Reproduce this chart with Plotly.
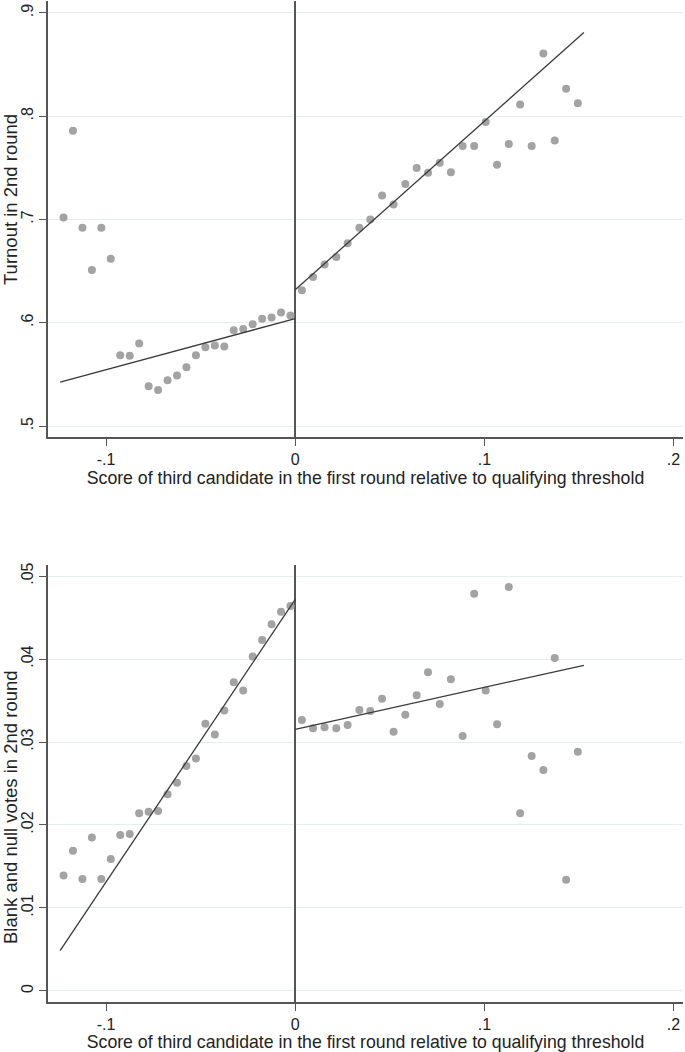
import plotly.graph_objects as go

# ---- data ----
left_x = [-0.1225, -0.1175, -0.1125, -0.1075, -0.1025, -0.0975, -0.0925, -0.0875, -0.0825,
          -0.0775, -0.0725, -0.0675, -0.0625, -0.0575, -0.0525, -0.0475, -0.0425, -0.0375,
          -0.0325, -0.0275, -0.0225, -0.0175, -0.0125, -0.0075, -0.0025]
right_x = [0.0035, 0.0094, 0.0155, 0.0217, 0.0277, 0.0339, 0.0397, 0.0459, 0.0520, 0.0582,
           0.0642, 0.0702, 0.0764, 0.0823, 0.0885, 0.0946, 0.1007, 0.1067, 0.1129, 0.1189,
           0.1250, 0.1312, 0.1372, 0.1432, 0.1494]

turnout_left = [0.702, 0.786, 0.692, 0.651, 0.692, 0.662, 0.5686, 0.568, 0.580, 0.5386,
                0.535, 0.5444, 0.549, 0.557, 0.5686, 0.5763, 0.578, 0.577, 0.5928, 0.594,
                0.5986, 0.604, 0.605, 0.610, 0.607]
turnout_right = [0.6314, 0.6443, 0.6565, 0.6636, 0.677, 0.692, 0.700, 0.7232, 0.7145, 0.7345,
                 0.750, 0.7454, 0.755, 0.7457, 0.7712, 0.7712, 0.7944, 0.7531, 0.7731, 0.8114,
                 0.7712, 0.8607, 0.7766, 0.8266, 0.8127]

blank_left = [0.0139, 0.0169, 0.0135, 0.0185, 0.0135, 0.0159, 0.0188, 0.0189, 0.0214, 0.0216,
              0.0217, 0.0237, 0.0251, 0.0271, 0.0280, 0.0322, 0.0309, 0.0338, 0.0372, 0.0362,
              0.0403, 0.0423, 0.0442, 0.0457, 0.0464]
blank_right = [0.03265, 0.03165, 0.03177, 0.03165, 0.03205, 0.03386, 0.03373, 0.03522, 0.03124,
               0.03329, 0.03562, 0.0384, 0.03458, 0.03755, 0.03072, 0.04787, 0.03622, 0.03213,
               0.04867, 0.0214, 0.02831, 0.02663, 0.04012, 0.01341, 0.02883]

# fitted lines (endpoints)
fit_left_x = [-0.1243, 0.0]
fit_right_x = [0.0, 0.1526]
turnout_fit_left = [0.5425, 0.604]
turnout_fit_right = [0.632, 0.881]
blank_fit_left = [0.00486, 0.0472]
blank_fit_right = [0.03153, 0.03924]

x_tickvals = [-0.1, 0, 0.1, 0.2]
x_ticktext = ["-.1", "0", ".1", ".2"]
top_tickvals = [0.5, 0.6, 0.7, 0.8, 0.9]
top_ticktext = [".5", ".6", ".7", ".8", ".9"]
bot_tickvals = [0, 0.01, 0.02, 0.03, 0.04, 0.05]
bot_ticktext = ["0", ".01", ".02", ".03", ".04", ".05"]

x_title = "Score of third candidate in the first round relative to qualifying threshold"
top_ytitle = "Turnout in 2nd round"
bot_ytitle = "Blank and null votes in 2nd round"

# ---- styling ----
DOT = "#a3a3a3"
LINE = "#3a3a3a"
AXIS = "#555555"
GRID = "#e6eeee"
TXT = "#222222"
FONT = "Liberation Sans, Arial, Helvetica, sans-serif"

fig = go.Figure()

def add_panel(xa, ya, yl, yr, fl, fr):
    for xs, ys in ((left_x, yl), (right_x, yr)):
        fig.add_trace(go.Scatter(x=xs, y=ys, mode="markers", xaxis=xa, yaxis=ya,
                                 marker=dict(color=DOT, size=8, line=dict(width=0)),
                                 showlegend=False, hoverinfo="skip"))
    for xs, ys in ((fit_left_x, fl), (fit_right_x, fr)):
        fig.add_trace(go.Scatter(x=xs, y=ys, mode="lines", xaxis=xa, yaxis=ya,
                                 line=dict(color=LINE, width=1.3),
                                 showlegend=False, hoverinfo="skip"))

add_panel("x", "y", turnout_left, turnout_right, turnout_fit_left, turnout_fit_right)
add_panel("x2", "y2", blank_left, blank_right, blank_fit_left, blank_fit_right)

xcommon = dict(range=[-0.1307, 0.205], tickvals=x_tickvals, ticktext=x_ticktext,
               showline=True, linecolor=AXIS, linewidth=1.6, ticks="outside", ticklen=7,
               tickcolor=AXIS, tickwidth=1.3, showgrid=False, automargin=False,
               zeroline=True, zerolinecolor=AXIS, zerolinewidth=1.6,
               tickfont=dict(size=16, color=TXT),
               title=dict(text=x_title, font=dict(size=17.7, color=TXT), standoff=2))
ycommon = dict(showline=True, linecolor=AXIS, linewidth=1.6, ticks="outside", ticklen=7,
               tickcolor=AXIS, tickwidth=1.3, showgrid=True, gridcolor=GRID, gridwidth=1,
               zeroline=False, tickangle=-90, automargin=False,
               tickfont=dict(size=16, color=TXT))

L, R, T, B = 48, 2, 1, 50
H = 1052
plot_h = H - T - B

def py_to_paper(py):
    return (H - B - py) / plot_h

fig.update_layout(
    width=685, height=H,
    margin=dict(l=L, r=R, t=T, b=B),
    paper_bgcolor="white", plot_bgcolor="white",
    font=dict(family=FONT, color=TXT),
    xaxis=dict(**xcommon, anchor="y"),
    yaxis=dict(**ycommon, domain=[py_to_paper(437), 1.0], range=[0.4894, 0.9116],
               tickvals=top_tickvals, ticktext=top_ticktext, anchor="x"),
    xaxis2=dict(**xcommon, anchor="y2"),
    yaxis2=dict(**ycommon, domain=[0.0, py_to_paper(565)], range=[-0.00133, 0.05133],
                tickvals=bot_tickvals, ticktext=bot_ticktext, anchor="x2"),
)

for txt, cy in ((top_ytitle, 200), (bot_ytitle, 807)):
    fig.add_annotation(text=txt, xref="paper", yref="paper", x=(10 - L) / (685 - L - R),
                       y=py_to_paper(cy), xanchor="center", yanchor="middle",
                       textangle=-90, showarrow=False, font=dict(size=18.5, color=TXT))

fig.write_html("out.html", config={"displayModeBar": False},
               post_script="document.body.style.margin='0px';document.body.style.overflow='hidden';")
